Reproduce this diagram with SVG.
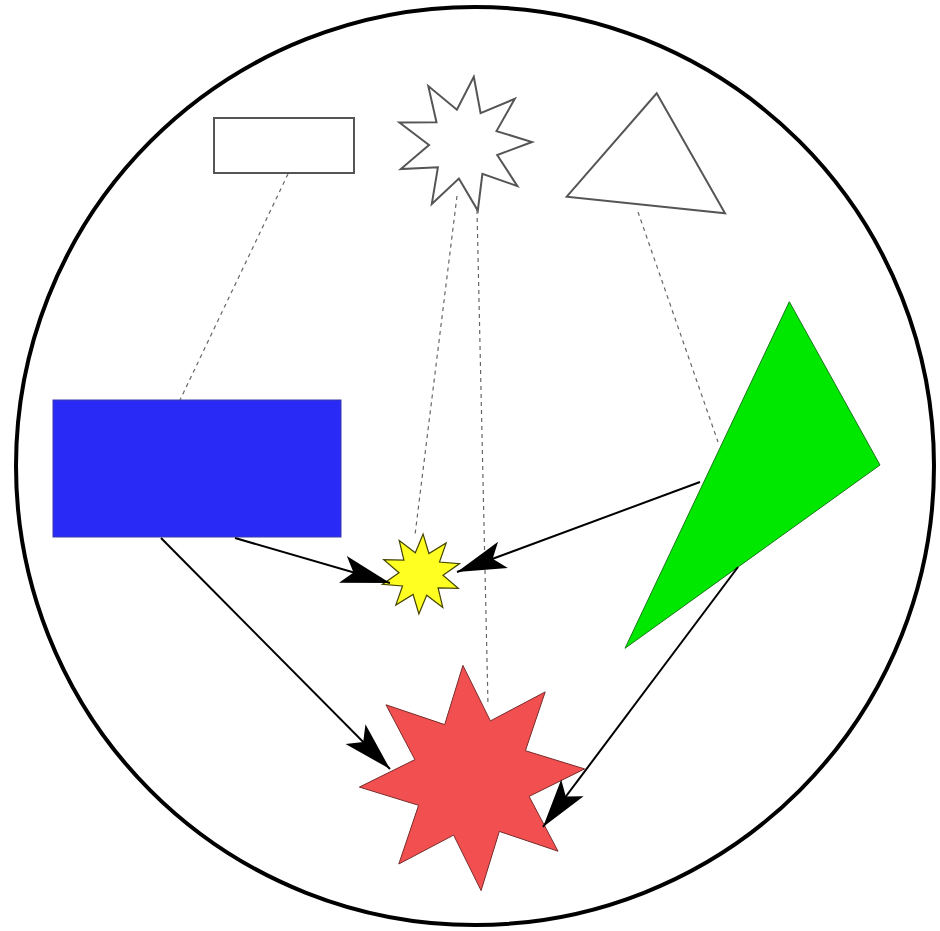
<svg xmlns="http://www.w3.org/2000/svg" width="940" height="931" viewBox="0 0 940 931">
  <style>
    .outline { fill: #ffffff; stroke: #555555; stroke-width: 2; stroke-linejoin: miter; }
    .dash { fill: none; stroke: #666666; stroke-width: 1.2; stroke-dasharray: 4 4; }
    .arrow { fill: none; stroke: #000000; stroke-width: 2; marker-end: url(#head); }
  </style>
  <defs>
    <marker id="head" viewBox="-52 -16 54 32" markerWidth="54" markerHeight="32" refX="0" refY="0" orient="auto" markerUnits="userSpaceOnUse">
      <path d="M0,0 L-49,-14 L-38,0 L-49,14 Z" fill="#000000"/>
    </marker>
  </defs>
  <rect x="0" y="0" width="940" height="931" fill="#ffffff"/>
  <g id="frame">
    <circle cx="475" cy="466" r="459" fill="#ffffff" stroke="#000000" stroke-width="4"/>
  </g>
  <g id="rect-white">
    <rect class="outline" x="214" y="118" width="140" height="55"/>
  </g>
  <g id="star-white">
    <polygon class="outline" points="473.8,76.7 480.6,113.2 514.8,98.8 496.5,131.1 532.0,142.0 497.2,155.0 517.4,186.1 482.4,173.8 477.8,210.6 458.9,178.6 431.8,203.9 437.9,167.3 400.8,169.1 429.0,145.0 399.4,122.6 436.5,122.3 428.3,86.1 456.9,109.7"/>
  </g>
  <g id="triangle-white">
    <polygon class="outline" points="656.7,93.3 725,213.3 566.7,196.7"/>
  </g>
  <g id="rect-blue">
    <rect x="53" y="400" width="288" height="137" fill="#2a2af6" stroke="#3a3ab0" stroke-width="1"/>
  </g>
  <g id="triangle-green">
    <polygon points="789.3,301.7 880,465 625,648.3" fill="#00e800" stroke="#1a7a1a" stroke-width="1"/>
  </g>
  <g id="star-yellow">
    <polygon points="423.1,534.1 428.9,553.5 446.2,542.9 439.5,562.0 459.6,563.6 443.0,575.2 458.3,588.3 438.1,587.8 442.8,607.5 426.7,595.2 418.9,613.9 413.1,594.5 395.8,605.1 402.5,586.0 382.4,584.4 399.0,572.8 383.7,559.7 403.9,560.2 399.2,540.5 415.3,552.7" fill="#ffff22" stroke="#444400" stroke-width="1.2"/>
  </g>
  <g id="star-red">
    <polygon points="462.9,665.4 490.4,720.9 545.2,691.9 525.4,750.7 584.6,768.9 529.1,796.4 558.0,851.2 499.3,831.4 481.1,890.6 453.6,835.1 398.8,864.0 418.6,805.3 359.4,787.1 414.9,759.6 386.0,704.8 444.7,724.6" fill="#f25050" stroke="#7a2a2a" stroke-width="1"/>
  </g>
  <g id="connectors">
    <line class="dash" x1="288" y1="174" x2="180" y2="400"/>
    <line class="dash" x1="457" y1="196" x2="415" y2="535"/>
    <line class="dash" x1="477" y1="210" x2="488" y2="705"/>
    <line class="dash" x1="638" y1="212" x2="718" y2="442"/>
    <line class="arrow" x1="235" y1="538" x2="390" y2="583"/>
    <line class="arrow" x1="161" y1="538" x2="390" y2="769"/>
    <line class="arrow" x1="700" y1="482" x2="457" y2="572"/>
    <line class="arrow" x1="738" y1="567" x2="543" y2="827"/>
  </g>
</svg>
